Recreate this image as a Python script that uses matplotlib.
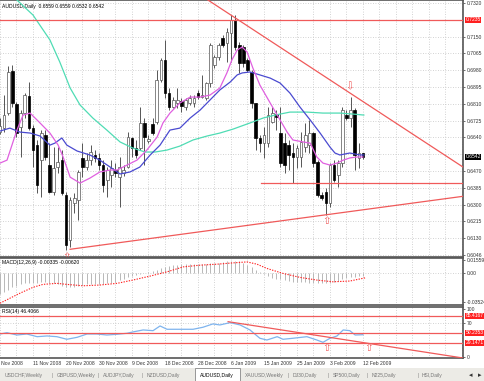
import matplotlib
matplotlib.use("Agg")
import matplotlib.pyplot as plt
from matplotlib import font_manager
from matplotlib.transforms import blended_transform_factory
from matplotlib.patches import Rectangle

try:
    font_manager.findfont("Liberation Sans Narrow", fallback_to_default=False)
    plt.rcParams["font.family"] = ["Liberation Sans Narrow", "DejaVu Sans"]
    FS = 4.4
except ValueError:
    plt.rcParams["font.family"] = ["Liberation Sans", "DejaVu Sans"]
    FS = 3.6

# ---- daily AUDUSD bars (bar index 0 = 2 Nov 2008, one bar per day incl. Sundays)
opens = [0.6667, 0.6687, 0.6763, 0.6976, 0.6809, 0.6692, 0.6763, 0.6849, 0.6687, 0.6601,
         0.6525, 0.6652, 0.6500, 0.6364, 0.6490, 0.6525, 0.6348, 0.6121, 0.6308, 0.6323,
         0.6536, 0.6490, 0.6525, 0.6551, 0.6536, 0.6500, 0.6424, 0.6450, 0.6475, 0.6439,
         0.6460, 0.6490, 0.6637, 0.6586, 0.6586, 0.6713, 0.6622, 0.6708, 0.6718, 0.6930,
         0.7031, 0.6864, 0.6794, 0.6814, 0.6824, 0.6794, 0.6814, 0.6814, 0.6864, 0.6844,
         0.6839, 0.6915, 0.7006, 0.7047, 0.7143, 0.7117, 0.7168, 0.7234, 0.7107, 0.7097,
         0.7031, 0.6971, 0.6814, 0.6637, 0.6611, 0.6611, 0.6718, 0.6758, 0.6662, 0.6611,
         0.6601, 0.6561, 0.6541, 0.6541, 0.6591, 0.6601, 0.6662, 0.6515, 0.6348, 0.6364,
         0.6308, 0.6500, 0.6450, 0.6510, 0.6753, 0.6738, 0.6778, 0.6536, 0.6559]
highs = [0.6738, 0.6854, 0.7001, 0.7006, 0.6819, 0.6778, 0.6864, 0.6920, 0.6703, 0.6627,
         0.6677, 0.6677, 0.6611, 0.6591, 0.6591, 0.6576, 0.6364, 0.6338, 0.6358, 0.6475,
         0.6611, 0.6561, 0.6601, 0.6576, 0.6561, 0.6525, 0.6490, 0.6525, 0.6510, 0.6541,
         0.6500, 0.6667, 0.6642, 0.6627, 0.6794, 0.6738, 0.6652, 0.6738, 0.6981, 0.7042,
         0.7133, 0.6890, 0.6844, 0.6890, 0.6839, 0.6839, 0.6854, 0.6854, 0.6880, 0.6956,
         0.6920, 0.7117, 0.7057, 0.7117, 0.7158, 0.7193, 0.7259, 0.7259, 0.7122, 0.7107,
         0.7042, 0.6981, 0.6814, 0.6652, 0.6692, 0.6794, 0.6794, 0.6778, 0.6794, 0.6662,
         0.6627, 0.6611, 0.6601, 0.6667, 0.6713, 0.6728, 0.6667, 0.6525, 0.6364, 0.6384,
         0.6510, 0.6525, 0.6525, 0.6794, 0.6778, 0.6844, 0.6789, 0.6611, 0.6559]
lows = [0.6657, 0.6667, 0.6753, 0.6794, 0.6642, 0.6541, 0.6738, 0.6677, 0.6490, 0.6358,
        0.6338, 0.6525, 0.6358, 0.6348, 0.6460, 0.6348, 0.6070, 0.6085, 0.6257, 0.6222,
        0.6439, 0.6475, 0.6500, 0.6515, 0.6475, 0.6364, 0.6338, 0.6389, 0.6439, 0.6288,
        0.6444, 0.6485, 0.6541, 0.6536, 0.6576, 0.6500, 0.6611, 0.6652, 0.6708, 0.6920,
        0.6839, 0.6778, 0.6789, 0.6789, 0.6768, 0.6778, 0.6804, 0.6794, 0.6834, 0.6839,
        0.6829, 0.6895, 0.6991, 0.7031, 0.7097, 0.7021, 0.7021, 0.7082, 0.6966, 0.6996,
        0.6971, 0.6789, 0.6576, 0.6566, 0.6536, 0.6591, 0.6713, 0.6677, 0.6490, 0.6460,
        0.6475, 0.6409, 0.6485, 0.6490, 0.6566, 0.6561, 0.6490, 0.6338, 0.6323, 0.6247,
        0.6288, 0.6414, 0.6389, 0.6490, 0.6728, 0.6692, 0.6475, 0.6485, 0.6532]
closes = [0.6697, 0.6753, 0.6971, 0.6814, 0.6662, 0.6763, 0.6854, 0.6687, 0.6576, 0.6399,
          0.6662, 0.6541, 0.6364, 0.6485, 0.6515, 0.6358, 0.6095, 0.6323, 0.6333, 0.6465,
          0.6490, 0.6525, 0.6566, 0.6536, 0.6500, 0.6399, 0.6475, 0.6485, 0.6460, 0.6490,
          0.6475, 0.6642, 0.6586, 0.6551, 0.6713, 0.6642, 0.6632, 0.6662, 0.6930, 0.7031,
          0.6864, 0.6794, 0.6829, 0.6829, 0.6799, 0.6829, 0.6839, 0.6839, 0.6844, 0.6854,
          0.6915, 0.7107, 0.7047, 0.7107, 0.7107, 0.7173, 0.7234, 0.7097, 0.7016, 0.7016,
          0.6981, 0.6814, 0.6637, 0.6611, 0.6652, 0.6753, 0.6763, 0.6743, 0.6510, 0.6500,
          0.6551, 0.6541, 0.6586, 0.6617, 0.6652, 0.6662, 0.6510, 0.6348, 0.6333, 0.6308,
          0.6500, 0.6424, 0.6510, 0.6778, 0.6738, 0.6778, 0.6551, 0.6561, 0.6542]

# moving averages (bar position, price)
ma_fast_x = [0, 1.7, 2.9, 4.1, 5.6, 7.3, 9.7, 12.1, 14.1, 15.3, 17.0, 19.4, 21.8, 24.2, 26.7,
             28.4, 30.8, 33.2, 35.6, 38.1, 39.5, 41.2, 43.6, 46.1, 48.5, 50.9, 53.3, 55.0,
             56.2, 57.5, 58.7, 59.9, 61.3, 63.0, 65.5, 67.9, 69.6, 71.0, 73.5, 75.2, 76.8,
             78.3, 80.0, 81.7, 83.2, 84.8, 86.5, 88.0]
ma_fast = [0.6510, 0.6525, 0.6601, 0.6677, 0.6753, 0.6763, 0.6713, 0.6662, 0.6601, 0.6541,
           0.6439, 0.6409, 0.6434, 0.6465, 0.6475, 0.6475, 0.6500, 0.6525, 0.6576, 0.6642,
           0.6713, 0.6763, 0.6814, 0.6844, 0.6844, 0.6854, 0.6890, 0.6966, 0.7031, 0.7082,
           0.7097, 0.7072, 0.6991, 0.6905, 0.6814, 0.6728, 0.6667, 0.6627, 0.6617, 0.6611,
           0.6541, 0.6510, 0.6500, 0.6510, 0.6525, 0.6536, 0.6541, 0.6541]
ma_mid_x = [0, 2.4, 4.8, 7.3, 9.7, 12.1, 13.3, 15.0, 16.2, 18.7, 21.8, 24.2, 26.7, 29.1, 31.5,
            33.9, 36.4, 38.8, 41.2, 43.6, 46.1, 48.5, 50.9, 53.3, 55.8, 57.5, 58.7, 60.6,
            63.0, 65.5, 67.9, 70.3, 72.7, 75.2, 77.6, 80.0, 81.2, 82.4, 84.8, 87.3, 88.2]
ma_mid = [0.6672, 0.6687, 0.6667, 0.6662, 0.6647, 0.6601, 0.6611, 0.6637, 0.6601, 0.6571,
          0.6551, 0.6525, 0.6490, 0.6455, 0.6465, 0.6490, 0.6551, 0.6601, 0.6677, 0.6687,
          0.6738, 0.6778, 0.6829, 0.6880, 0.6920, 0.6956, 0.6966, 0.6971, 0.6956, 0.6940,
          0.6915, 0.6864, 0.6794, 0.6728, 0.6662, 0.6591, 0.6561, 0.6551, 0.6561, 0.6551,
          0.6551]
ma_slow_x = [1.5, 4.1, 8.0, 12.1, 14.5, 17.0, 19.4, 22.5, 25.9, 29.1, 32.2, 35.2, 37.6, 40.5,
             43.6, 46.8, 50.2, 53.3, 56.5, 60.6, 63.8, 66.7, 70.3, 74.4, 78.3, 82.4, 85.6, 88.2]
ma_slow = [0.7400, 0.7335, 0.7259, 0.7133, 0.7021, 0.6890, 0.6804, 0.6738, 0.6677, 0.6617,
           0.6586, 0.6566, 0.6566, 0.6576, 0.6596, 0.6627, 0.6647, 0.6662, 0.6682, 0.6713,
           0.6738, 0.6753, 0.6768, 0.6768, 0.6763, 0.6763, 0.6758, 0.6753]

# MACD(12,26,9): main as histogram, signal dotted
macd_main = [-0.026, -0.024, -0.021, -0.018, -0.016, -0.014, -0.013, -0.012, -0.012, -0.012,
             -0.011, -0.011, -0.012, -0.013, -0.014, -0.016, -0.018, -0.018, -0.017, -0.016,
             -0.015, -0.014, -0.014, -0.014, -0.014, -0.014, -0.013, -0.012, -0.011, -0.009,
             -0.007, -0.005, -0.004, -0.003, -0.001, 0.000, 0.001, 0.002, 0.004, 0.006,
             0.007, 0.008, 0.009, 0.010, 0.011, 0.011, 0.011, 0.011, 0.011, 0.011,
             0.011, 0.012, 0.012, 0.012, 0.013, 0.014, 0.015, 0.015, 0.014, 0.012,
             0.010, 0.007, 0.004, 0.001, -0.002, -0.004, -0.006, -0.007, -0.008, -0.009,
             -0.010, -0.011, -0.011, -0.011, -0.011, -0.012, -0.013, -0.013, -0.013, -0.013,
             -0.012, -0.011, -0.010, -0.008, -0.006, -0.005, -0.005, -0.004, -0.00335]
macd_sig_x = [0, 4.8, 8.0, 10.4, 13.8, 16.2, 20.1, 24.2, 28.4, 32.2, 36.4, 40.5, 44.4, 48.5,
              52.6, 56.5, 59.9, 62.3, 64.7, 68.6, 72.7, 76.8, 80.7, 84.8, 88.5]
macd_sig = [-0.0373, -0.0251, -0.0178, -0.0142, -0.0129, -0.0142, -0.0159, -0.0150, -0.0129,
            -0.0089, -0.0040, 0.0012, 0.0073, 0.0094, 0.0106, 0.0122, 0.0134, 0.0106, 0.0054,
            -0.0007, -0.0056, -0.0089, -0.0110, -0.0101, -0.0062]

# RSI(14)
rsi_x = [0, 1.7, 4.1, 6.5, 9.0, 11.4, 13.8, 16.2, 18.7, 21.1, 23.5, 25.9, 28.4, 30.8, 32.2,
         34.7, 37.1, 38.8, 40.5, 43.6, 46.8, 49.2, 51.6, 53.3, 55.8, 58.2, 60.6, 63.0, 64.7,
         67.2, 68.6, 71.0, 74.4, 76.8, 78.3, 80.0, 81.7, 83.2, 84.8, 86.1, 88.0]
rsi = [47.9, 50.6, 45.8, 47.9, 42.3, 43.8, 42.3, 36.9, 41.0, 47.9, 47.9, 45.8, 47.3, 49.4,
       52.1, 56.3, 54.8, 64.6, 57.7, 57.7, 57.7, 61.9, 68.8, 66.7, 71.5, 66.7, 56.3, 39.0,
       35.4, 42.3, 36.9, 39.0, 42.3, 35.4, 30.6, 39.0, 43.8, 56.3, 54.8, 45.8, 46.4]
rsi_levels = [85.4, 50.0, 29.2]
rsi_level_labels = ["85.4167", "50.2353", "29.1471"]

price_ticks = [0.7320, 0.7150, 0.7065, 0.6980, 0.6895, 0.6810, 0.6725, 0.6640,
               0.6470, 0.6385, 0.6300, 0.6215, 0.6130, 0.6046]
date_pos = [0, 8, 16, 24, 32, 40, 48, 56, 64, 72, 80, 88]
date_labels = ["2 Nov 2008", "11 Nov 2008", "20 Nov 2008", "30 Nov 2008", "9 Dec 2008",
               "18 Dec 2008", "28 Dec 2008", "6 Jan 2009", "15 Jan 2009", "25 Jan 2009",
               "3 Feb 2009", "12 Feb 2009"]
tabs = ["USDCHF,Weekly", "GBPUSD,Weekly", "AUDJPY,Daily", "NZDUSD,Daily", "AUDUSD,Daily",
        "XAUUSD,Weekly", "DJ30,Daily", "SP500,Daily", "N225,Daily", "HSI,Daily"]
tab_x = [5, 57, 103, 147, 200, 245, 293, 333, 372, 422]

W, H = 485, 381
XMAX = 463 / 4.125
GRID = dict(color="#c4c4c4", linestyle=(0, (1, 2)), linewidth=0.6)
RED = "#f05a5a"
ARROW = dict(color=RED, fontsize=7.5, ha="center", va="center", family="DejaVu Sans", zorder=6)

fig = plt.figure(figsize=(W / 100, H / 100), dpi=100)
fig.patch.set_facecolor("white")


def px_axes(x0, y0, x1, y1):
    ax = fig.add_axes([x0 / W, 1 - y1 / H, (x1 - x0) / W, (y1 - y0) / H])
    ax.set_xlim(0, XMAX)
    ax.set_xticks([])
    ax.yaxis.tick_right()
    ax.tick_params(axis="y", length=1.5, width=0.5, pad=1.0, labelsize=FS, colors="#333333")
    for s in ax.spines.values():
        s.set_color("#555555")
        s.set_linewidth(1.2)
    ax.spines["left"].set_visible(False)
    for gx in range(0, 113, 4):
        ax.axvline(gx, zorder=0, **GRID)
    return ax


def value_box(ax, y, txt, fc):
    tr = blended_transform_factory(ax.transAxes, ax.transData)
    ax.text(1.005, y, txt, transform=tr, fontsize=FS, color="white", va="center",
            bbox=dict(boxstyle="square,pad=0.12", fc=fc, ec="none"), zorder=10)


# ---------------- main price panel
ax = px_axes(0, 0, 463, 257)
ax.set_ylim(0.6035, 0.7335)
ax.set_yticks(price_ticks)
ax.set_yticklabels([f"{t:.4f}" for t in price_ticks])
for t in price_ticks + [0.7235, 0.6555]:
    ax.axhline(t, zorder=0, **GRID)

for i in range(len(opens)):
    o, h, l, c = opens[i], highs[i], lows[i], closes[i]
    ax.vlines(i, l, h, color="#555555", linewidth=0.7, zorder=2)
    up = c >= o
    ax.bar(i, max(abs(c - o), 0.0003), bottom=min(o, c), width=0.62,
           color="white" if up else "black", edgecolor="#555555" if up else "black",
           linewidth=0.5, zorder=3)

ax.plot(ma_slow_x, ma_slow, color="#4fdcb4", linewidth=0.9, zorder=4)
ax.plot(ma_mid_x, ma_mid, color="#4a4ad0", linewidth=0.9, zorder=4)
ax.plot(ma_fast_x, ma_fast, color="#e060e0", linewidth=0.9, zorder=4)

# drawn lines
ax.axhline(0.7235, color=RED, linewidth=0.9, zorder=5)
ax.plot([50.4, XMAX], [0.7335, 0.6490], color=RED, linewidth=0.9, zorder=5)
ax.plot([63.2, XMAX], [0.6409, 0.6409], color=RED, linewidth=0.9, zorder=5)
ax.plot([17.0, XMAX], [0.6074, 0.6342], color=RED, linewidth=0.9, zorder=5)
ax.text(84.8, 0.6900, "\u21e9", **ARROW)
ax.text(79.2, 0.6215, "\u21e7", **ARROW)
ax.text(16.2, 0.6036, "\u21e7", **ARROW)

value_box(ax, 0.7235, "0.7235", "#ff2020")
value_box(ax, 0.6542, "0.6542", "black")
ax.text(0.005, 0.985, "AUDUSD,Daily  0.6559 0.6559 0.6532 0.6542", transform=ax.transAxes,
        fontsize=FS, va="top", ha="left", color="black")

# ---------------- MACD panel
am = px_axes(0, 258, 463, 305)
am.set_ylim(-0.0395, 0.0182)
am.set_yticks([0.01559, 0.0, -0.03524])
am.set_yticklabels(["0.01559", "0.00", "-0.03524"])
am.axhline(0, zorder=0, **GRID)
am.vlines(range(len(macd_main)), 0, macd_main, color="#b8b8b8", linewidth=0.7, zorder=2)
am.plot(macd_sig_x, macd_sig, color="#ff2020", linewidth=0.8, linestyle=(0, (1.2, 1.2)), zorder=3)
am.text(0.005, 0.95, "MACD(12,26,9) -0.00335 -0.00620", transform=am.transAxes,
        fontsize=FS, va="top", ha="left")

# ---------------- RSI panel
ar = px_axes(0, 307, 463, 358)
ar.set_ylim(-2, 104)
ar.set_yticks([100, 70, 0])
ar.set_yticklabels(["100", "70", "0"])
for lv in (70, 30):
    ar.axhline(lv, zorder=0, **GRID)
ar.plot(rsi_x, rsi, color="#7fb4ee", linewidth=0.9, zorder=3)
for lv, txt in zip(rsi_levels, rsi_level_labels):
    ar.axhline(lv, color=RED, linewidth=0.9, zorder=4)
    value_box(ar, lv, txt, "#ff2020")
ar.plot([55.3, XMAX], [73.5, -2.0], color=RED, linewidth=0.9, zorder=4)
for bx in (79.2, 89.3):
    ar.text(bx, 18.0, "\u21e7", **ARROW)
ar.text(0.005, 0.96, "RSI(14) 46.4066", transform=ar.transAxes, fontsize=FS,
        va="top", ha="left")

# dates under the RSI panel
trd = blended_transform_factory(ar.transData, ar.transAxes)
for p, lab in zip(date_pos, date_labels):
    x = p - 0.8 if p == 0 else p
    ar.text(x, -0.11, lab, transform=trd, fontsize=FS, ha="left", va="center",
            color="#333333", clip_on=False)

# ---------------- tab bar
fig.patches.append(Rectangle((0, 0), 1, 13 / H, transform=fig.transFigure,
                             facecolor="#ecebe6", edgecolor="none", zorder=0))
fig.patches.append(Rectangle((195 / W, 0), 45 / W, 13 / H, transform=fig.transFigure,
                             facecolor="white", edgecolor="#888888", linewidth=0.6, zorder=1))
for x, lab in zip(tab_x, tabs):
    fig.text(x / W, 1 - 375.5 / H, lab, fontsize=FS, va="center", ha="left",
             color="black" if lab == "AUDUSD,Daily" else "#777777")
for x in tab_x[1:]:
    if x not in (200, 245):
        fig.text((x - 5) / W, 1 - 375.5 / H, "|", fontsize=FS, va="center", color="#888888")
fig.text(471 / W, 1 - 375.5 / H, "\u25c2", fontsize=5, va="center", ha="center",
         family="DejaVu Sans", color="#333333")
fig.text(480 / W, 1 - 375.5 / H, "\u25b8", fontsize=5, va="center", ha="center",
         family="DejaVu Sans", color="#333333")

fig.savefig("out.png", dpi=100)
